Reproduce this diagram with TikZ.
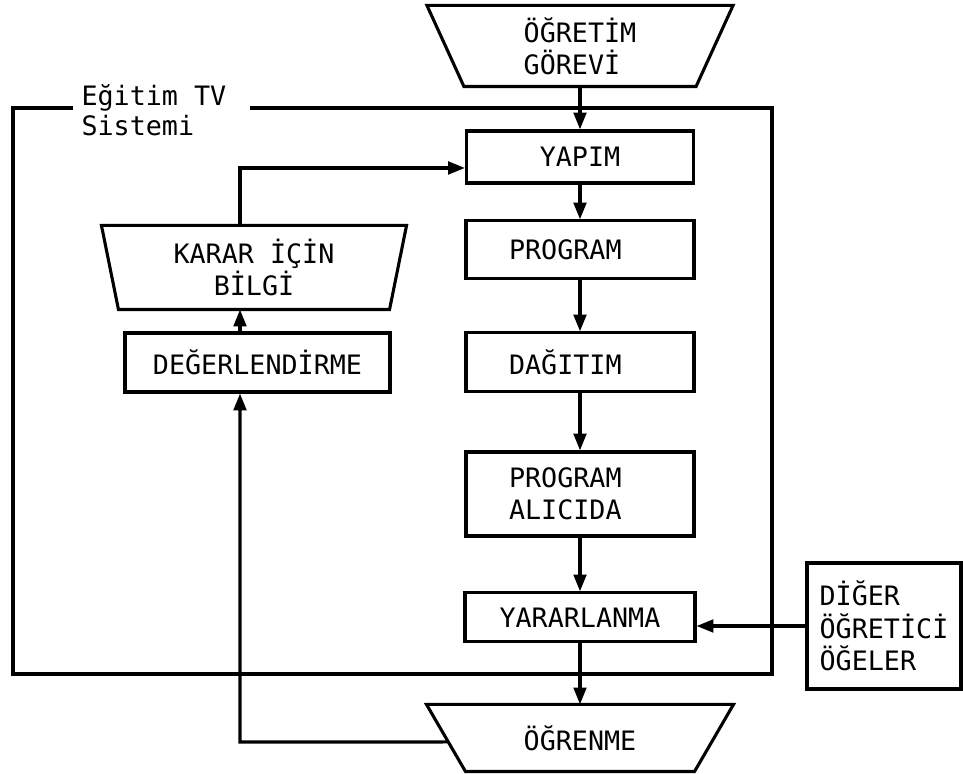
\documentclass[tikz,border=0pt]{standalone}
\usepackage{fontspec}
\setmainfont{DejaVu Sans Mono}
\usetikzlibrary{arrows.meta, calc, positioning}
\newcommand{\unitpx}{0.025cm}

\begin{document}
\begin{tikzpicture}[
    x=0.025cm, y=-0.025cm,
    >={Triangle[length=12pt,width=9pt]},
    font=\fontsize{19}{23}\selectfont,
    line width=2.2pt,
    block/.style={draw, inner sep=0pt, align=center},
    leftblock/.style={draw, inner xsep={43*\unitpx}, inner ysep=0pt,
                      text width={142*\unitpx}, align=left},
    trapnode/.style={inner sep=0pt, align=center},
    framelabel/.style={align=left, anchor=west, inner sep=0pt,
                       font=\fontsize{19}{21}\selectfont},
]
\useasboundingbox (0,0) rectangle (963,774);

% ---------------- main column ----------------------------------------
\node[trapnode, align=left, minimum width={303*\unitpx},
      minimum height={78*\unitpx}]                       (task)    at (580,46)
    {ÖĞRETİM\\GÖREVİ};
\draw (task.north west) -- (task.north east)
    -- ([xshift={-37*\unitpx}]task.south east)
    -- ([xshift={37*\unitpx}]task.south west) -- cycle;

\node[block, minimum width={227*\unitpx}, minimum height={52*\unitpx},
      below=30.5pt of task]                              (yapim)   {YAPIM};
\node[leftblock, minimum height={58*\unitpx}, below=24.8pt of yapim]
                                                         (prog)    {PROGRAM};
\node[leftblock, minimum height={59*\unitpx}, below=36.2pt of prog]
                                                         (dag)     {DAĞITIM};
\node[leftblock, minimum height={84*\unitpx}, below=40.5pt of dag]
                                                         (alici)   {PROGRAM\\ALICIDA};
\node[block, minimum width={230*\unitpx}, minimum height={49*\unitpx},
      below=38.3pt of alici]                             (yarar)   {YARARLANMA};

\node[trapnode, minimum width={304*\unitpx}, minimum height={64*\unitpx},
      below=43.3pt of yarar]                             (ogrenme) {ÖĞRENME};
\draw (ogrenme.north west) -- (ogrenme.north east)
    -- ([xshift={-39*\unitpx}]ogrenme.south east)
    -- ([xshift={39*\unitpx}]ogrenme.south west) -- cycle;

% ---------------- feedback column ------------------------------------
\node[trapnode, minimum width={302*\unitpx}, minimum height={81*\unitpx}]
                                                         (karar)   at (254,267.5)
    {KARAR İÇİN\\BİLGİ};
\draw (karar.north west) -- (karar.north east)
    -- ([xshift={-17*\unitpx}]karar.south east)
    -- ([xshift={17*\unitpx}]karar.south west) -- cycle;

\node[block, minimum width={265*\unitpx}, minimum height={59*\unitpx}]
                                                         (deger)   at (257.5,362.5)
    {DEĞERLENDİRME};

% ---------------- outside input --------------------------------------
\node[block, align=left, minimum width={154*\unitpx},
      minimum height={126*\unitpx}]                      (diger)   at (884,626)
    {DİĞER\\ÖĞRETİCİ\\ÖĞELER};

% ---------------- system frame ---------------------------------------
\draw (73,108) -- (13,108) -- (13,674) -- (772,674) -- (772,108) -- (250,108);
\node[framelabel]                                        (syslabel) at (80,110)
    {Eğitim TV\\Sistemi};

% ---------------- connectors -----------------------------------------
\draw[->] (task) -- (yapim);
\foreach \a/\b in {yapim/prog, prog/dag, dag/alici, alici/yarar, yarar/ogrenme}
    \draw[->] (\a) -- (\b);

\coordinate (fbcorner)  at (240,742);
\coordinate (learnleft) at ($(ogrenme.north west)!0.56!([xshift={39*\unitpx}]ogrenme.south west)$);
\draw[->] (learnleft) -- (fbcorner) -- (fbcorner |- deger.south);
\draw[->] (deger.north -| fbcorner) -- (karar.south -| fbcorner);
\draw[->] (karar.north -| fbcorner) |- ([yshift={-11*\unitpx}]yapim.west);

\draw[->] (diger.west) -- (diger.west -| yarar.east);

\end{tikzpicture}
\end{document}
